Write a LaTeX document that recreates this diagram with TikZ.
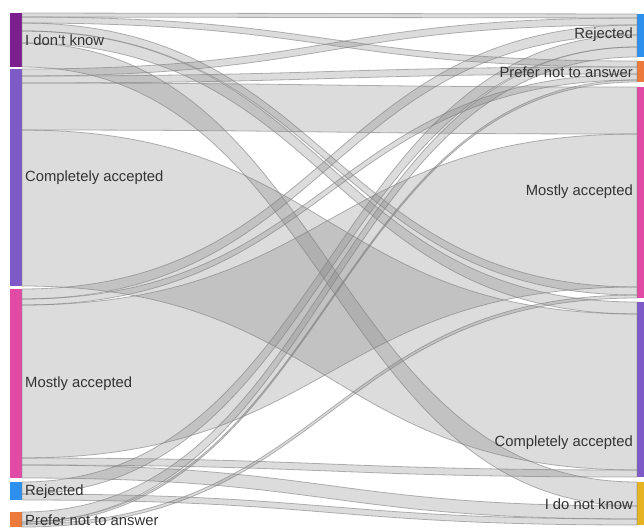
\documentclass[tikz,border=0pt]{standalone}
\usepackage{fontspec}
\setmainfont{Liberation Sans}
\usetikzlibrary{calc}
\definecolor{cIdk}{HTML}{7B1E8E}
\definecolor{cCA}{HTML}{7E5AC8}
\definecolor{cMA}{HTML}{E14AA5}
\definecolor{cRej}{HTML}{2D8FEE}
\definecolor{cPna}{HTML}{EC7A3C}
\definecolor{cIdn}{HTML}{E6B422}
\tikzset{
  lbar/.style={inner sep=0pt, outer sep=0pt, minimum width=12pt, anchor=north west, draw=none},
  rbar/.style={inner sep=0pt, outer sep=0pt, minimum width=7pt, anchor=north west, draw=none},
  link/.style={fill=black!50, fill opacity=0.28, draw=black!50, draw opacity=0.6, line width=0.8pt},
  lab/.style={font=\fontsize{14.8}{17}\selectfont, text=black!80, inner sep=0pt},
}
\newcommand\sband[5]{%
  \coordinate (a0) at ([yshift={-(#2)*1pt}]#1.north east);
  \coordinate (a1) at ([yshift={-(#2+#3)*1pt}]#1.north east);
  \coordinate (b0) at ([yshift={-(#5)*1pt}]#4.north west);
  \coordinate (b1) at ([yshift={-(#5+#3)*1pt}]#4.north west);
  \coordinate (m) at ($(a0)!0.5!(b0)$);
  \path[link] (a0) .. controls (m|-a0) and (m|-b0) .. (b0) -- (b1) .. controls (m|-b1) and (m|-a1) .. (a1) -- cycle;
}
\begin{document}
\begin{tikzpicture}[x=1pt,y=-1pt]
\useasboundingbox (0,0) rectangle (644,527);
% left nodes
\node[lbar, fill=cIdk, minimum height=54pt] (L1) at (10,13) {};
\node[lbar, fill=cCA, minimum height=217pt] (L2) at (10,69) {};
\node[lbar, fill=cMA, minimum height=189pt] (L3) at (10,289) {};
\node[lbar, fill=cRej, minimum height=18pt] (L4) at (10,482) {};
\node[lbar, fill=cPna, minimum height=15pt] (L5) at (10,512) {};
% right nodes
\node[rbar, fill=cRej, minimum height=43pt] (R1) at (637,14) {};
\node[rbar, fill=cPna, minimum height=21pt] (R2) at (637,61) {};
\node[rbar, fill=cMA, minimum height=211pt] (R3) at (637,87) {};
\node[rbar, fill=cCA, minimum height=175pt] (R4) at (637,302) {};
\node[rbar, fill=cIdn, minimum height=43pt] (R5) at (637,482) {};
% flows: left node, left offset, width, right node, right offset
\sband{L1}{0}{4}{R1}{0}
\sband{L1}{4}{6}{R2}{0}
\sband{L1}{10}{8}{R3}{200}
\sband{L1}{18}{12}{R4}{0}
\sband{L1}{30}{24}{R5}{0}
\sband{L2}{0}{7}{R1}{4}
\sband{L2}{7}{7}{R2}{6}
\sband{L2}{14}{47}{R3}{0}
\sband{L2}{61}{156}{R4}{12}
\sband{L3}{0}{10}{R1}{11}
\sband{L3}{10}{6}{R2}{13}
\sband{L3}{16}{153}{R3}{47}
\sband{L3}{169}{7}{R4}{168}
\sband{L3}{176}{13}{R5}{24}
\sband{L4}{0}{12}{R1}{21}
\sband{L4}{12}{6}{R5}{37}
\sband{L5}{0}{10}{R1}{33}
\sband{L5}{10}{2}{R2}{19}
\sband{L5}{12}{3}{R3}{208}
% labels
\node[lab, anchor=west] (tL1) at (25,40) {I don{\char"0060}t know};
\node[lab, anchor=west] (tL2) at (25,178) {Completely accepted};
\node[lab, anchor=west] (tL3) at (25,384) {Mostly accepted};
\node[lab, anchor=west] (tL4) at (25,492) {Rejected};
\node[lab, anchor=west] (tL5) at (25,520) {Prefer not to answer};
\node[lab, anchor=east] (tR1) at (633,35) {Rejected};
\node[lab, anchor=east] (tR2) at (633,72) {Prefer not to answer};
\node[lab, anchor=east] (tR3) at (633,192) {Mostly accepted};
\node[lab, anchor=east] (tR4) at (633,443) {Completely accepted};
\node[lab, anchor=east] (tR5) at (633,504) {I do not know};
\end{tikzpicture}
\end{document}
